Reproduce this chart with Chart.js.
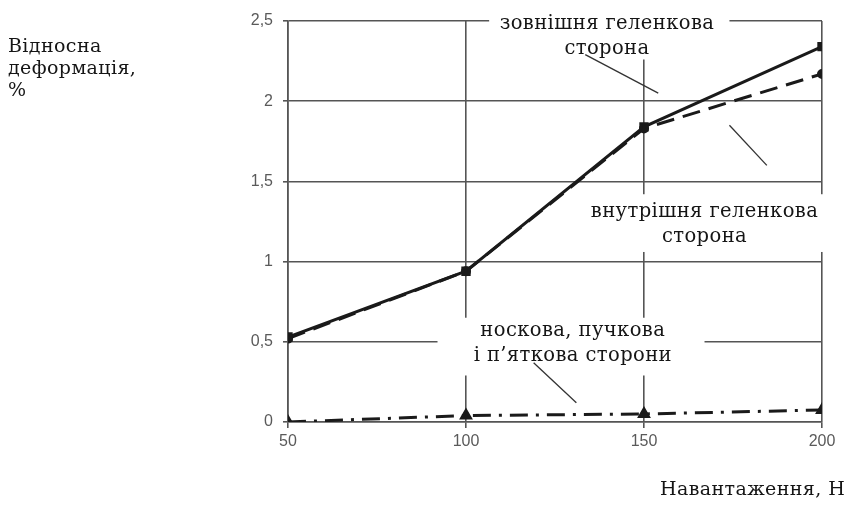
<!DOCTYPE html>
<html>
<head>
<meta charset="utf-8">
<script src="https://cdn.jsdelivr.net/npm/chart.js@4.4.1/dist/chart.umd.min.js"></script>
<style>
  body { margin: 0; background: #fff; }
  #wrap { position: relative; width: 858px; height: 513px; }
  .lbl { position: absolute; font-family: "DejaVu Serif", serif; font-size: 19px; color: #151515;
         line-height: 22px; letter-spacing: 0.4px; }
</style>
</head>
<body>
<div id="wrap">
  <canvas id="chart" width="858" height="513"></canvas>
  <div class="lbl" style="left:8px; top:34px;">Відносна<br>деформація,<br>%</div>
  <div class="lbl" style="left:660px; top:477px;">Навантаження, Н</div>
</div>
<script>
// load, N
const loads = [50, 100, 150, 200];
// relative deformation, %
const outerSide = [0.53, 0.94, 1.84, 2.34];
const innerSide = [0.52, 0.94, 1.83, 2.17];
const toeHeelSides = [0.0, 0.04, 0.05, 0.075];

const xTicks = [50, 100, 150, 200];
const yTicks = [0, 0.5, 1, 1.5, 2, 2.5];

const gridColor = '#555';

// text notes on the plot: white box, lines of text, leader line (data coords)
const notes = [
  { lines: ['зовнішня геленкова', 'сторона'], x: 139.6, y: 2.48, box: [106.5, 174, 2.62, 2.26],
    leader: [[133.5, 2.29], [154, 2.05]] },
  { lines: ['внутрішня геленкова', 'сторона'], x: 167, y: 1.31, box: [132, 202, 1.42, 1.06],
    leader: [[174, 1.85], [184.5, 1.6]] },
  { lines: ['носкова, пучкова', 'і п\u2019яткова сторони'], x: 130, y: 0.57, box: [92, 167, 0.65, 0.29],
    leader: [[119, 0.37], [131, 0.12]] }
];

const notesPlugin = {
  id: 'notes',
  beforeDatasetsDraw(chart) {
    const { ctx, scales: { x, y } } = chart;
    ctx.save();
    notes.forEach(n => {
      const [x0, x1, y0, y1] = n.box;
      ctx.fillStyle = '#fff';
      ctx.fillRect(x.getPixelForValue(x0), y.getPixelForValue(y0),
        x.getPixelForValue(x1) - x.getPixelForValue(x0), y.getPixelForValue(y1) - y.getPixelForValue(y0));
      ctx.fillStyle = '#151515';
      ctx.font = '19.5px "DejaVu Serif", serif';
      ctx.letterSpacing = '0.4px';
      ctx.textAlign = 'center';
      ctx.textBaseline = 'middle';
      n.lines.forEach((t, i) => {
        ctx.fillText(t, x.getPixelForValue(n.x), y.getPixelForValue(n.y) + i * 25);
      });
      ctx.letterSpacing = '0px';
      ctx.strokeStyle = '#333';
      ctx.lineWidth = 1.3;
      ctx.beginPath();
      ctx.moveTo(x.getPixelForValue(n.leader[0][0]), y.getPixelForValue(n.leader[0][1]));
      ctx.lineTo(x.getPixelForValue(n.leader[1][0]), y.getPixelForValue(n.leader[1][1]));
      ctx.stroke();
    });
    ctx.restore();
  }
};

function pts(vals) {
  return loads.map((l, i) => ({ x: l, y: vals[i] }));
}

new Chart(document.getElementById('chart'), {
  type: 'line',
  data: {
    datasets: [
      { label: 'зовнішня геленкова сторона', data: pts(outerSide), borderColor: '#1a1a1a',
        backgroundColor: '#1a1a1a', borderWidth: 3, pointStyle: 'rect', pointRadius: 4.5 },
      { label: 'внутрішня геленкова сторона', data: pts(innerSide), borderColor: '#1a1a1a',
        backgroundColor: '#1a1a1a', borderWidth: 3, borderDash: [18, 9], pointStyle: 'circle', pointRadius: 3.5 },
      { label: 'носкова, пучкова і п\u2019яткова сторони', data: pts(toeHeelSides), borderColor: '#1a1a1a',
        backgroundColor: '#1a1a1a', borderWidth: 3, borderDash: [18, 8, 3, 8], pointStyle: 'triangle', pointRadius: 5 }
    ]
  },
  options: {
    responsive: false,
    animation: false,
    layout: { padding: { top: 21, right: 36, left: 0, bottom: 0 } },
    plugins: { legend: { display: false }, tooltip: { enabled: false } },
    scales: {
      x: {
        type: 'linear', min: 50, max: 200,
        afterBuildTicks: ax => { ax.ticks = xTicks.map(v => ({ value: v })); },
        afterFit: ax => { ax.height = 91; },
        grid: { color: gridColor, lineWidth: 1.6, tickLength: 6 },
        border: { color: gridColor, width: 1.6 },
        ticks: { color: '#5a5a5a', padding: 4, font: { family: 'Liberation Sans', size: 16 } }
      },
      y: {
        min: 0, max: 2.5,
        afterBuildTicks: ax => { ax.ticks = yTicks.map(v => ({ value: v })); },
        afterFit: ax => { ax.width = 288; },
        grid: { color: gridColor, lineWidth: 1.6, tickLength: 5 },
        border: { color: gridColor, width: 1.6 },
        ticks: { color: '#5a5a5a', padding: 10, font: { family: 'Liberation Sans', size: 16 },
          callback: v => String(v).replace('.', ',') }
      }
    }
  },
  plugins: [notesPlugin]
});
</script>
</body>
</html>
